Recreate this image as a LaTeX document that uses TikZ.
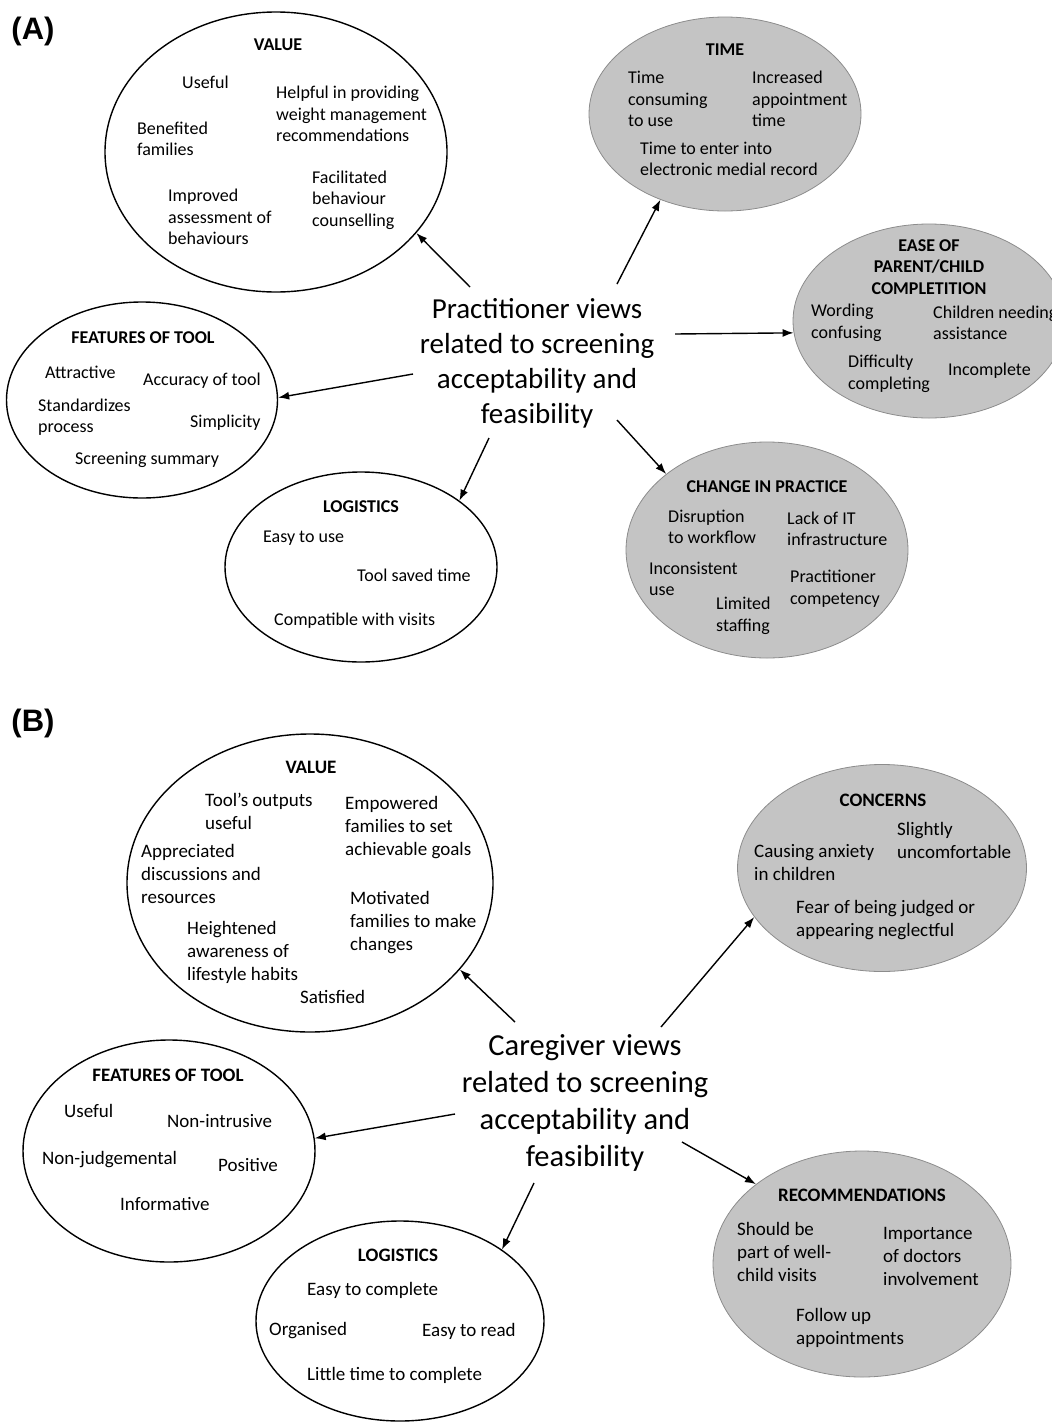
\documentclass[tikz,border=0pt]{standalone}
\usepackage{fontspec}
\setmainfont{Carlito}
\newfontfamily\panelfont{Liberation Sans}
\usepackage{tikz}
\usetikzlibrary{shapes.geometric,arrows.meta}
\definecolor{bubgrey}{gray}{0.77}
\definecolor{bubedge}{gray}{0.55}

\begin{document}
\begin{tikzpicture}[x=1pt, y=-1pt,
	bub/.style={ellipse, draw, line width=1.4pt, inner sep=0pt},
	gbub/.style={ellipse, draw=bubedge, fill=bubgrey, line width=0.8pt, inner sep=0pt},
	itm/.style={anchor=west, align=left, inner sep=0pt, font=\fontsize{18}{21.6}\selectfont},
	itmb/.style={itm, font=\fontsize{19}{23}\selectfont},
	ttl/.style={align=center, inner sep=0pt, font=\bfseries\fontsize{18}{21.6}\selectfont},
	ttlb/.style={ttl, font=\bfseries\fontsize{19}{23}\selectfont},
	hub/.style={align=center, inner sep=0pt, font=\fontsize{29}{35}\selectfont},
	hubb/.style={hub, font=\fontsize{30.5}{37}\selectfont},
	arr/.style={-{Latex[length=11pt,width=8pt]}, line width=1.4pt},
	panel/.style={inner sep=0pt, font=\panelfont\bfseries\fontsize{31}{34}\selectfont}]
	\useasboundingbox (0,0) rectangle (1052,1422);

	% (A) practitioners
	\node[panel] (labA) at (33,31) {(A)};
	\node[bub, minimum width=342pt, minimum height=280pt] (valA) at (276,152) {};
	\node[gbub, minimum width=272pt, minimum height=194pt] (timA) at (725,114) {};
	\node[gbub, minimum width=272pt, minimum height=194pt] (easA) at (929,321) {};
	\node[gbub, minimum width=282pt, minimum height=216pt] (chgA) at (767,550) {};
	\node[bub, minimum width=271pt, minimum height=196pt] (feaA) at (142,400) {};
	\node[bub, minimum width=272pt, minimum height=190pt] (logA) at (361,567) {};

	\node[ttl] (valAt) at (278,45) {VALUE};
	\node[itm] (valA1) at (182,82) {Useful};
	\node[itm] (valA2) at (276,114) {Helpful in providing\\weight management\\recommendations};
	\node[itm] (valA3) at (137,139) {Benefited\\families};
	\node[itm] (valA4) at (312,200) {Facilitated\\behaviour\\counselling};
	\node[itm] (valA5) at (168,217) {Improved\\assessment of\\behaviours};

	\node[ttl] (timAt) at (725,50) {TIME};
	\node[itm] (timA1) at (628,99) {Time\\consuming\\to use};
	\node[itm] (timA2) at (752,99) {Increased\\appointment\\time};
	\node[itm] (timA3) at (640,159) {Time to enter into\\electronic medial record};

	\node[ttl] (easAt) at (929,267) {EASE OF\\PARENT/CHILD\\COMPLETITION};
	\node[itm] (easA1) at (811,323) {Wording\\confusing};
	\node[itm] (easA2) at (933,323) {Children needing\\assistance};
	\node[itm] (easA3) at (848,374) {Difficulty\\completing};
	\node[itm] (easA4) at (948,371) {Incomplete};

	\node[ttl] (chgAt) at (767,487) {CHANGE IN PRACTICE};
	\node[itm] (chgA1) at (668,527) {Disruption\\to workflow};
	\node[itm] (chgA2) at (787,529) {Lack of IT\\infrastructure};
	\node[itm] (chgA3) at (649,579) {Inconsistent\\use};
	\node[itm] (chgA4) at (790,589) {Practitioner\\competency};
	\node[itm] (chgA5) at (716,616) {Limited\\staffing};

	\node[ttl] (feaAt) at (143,338) {FEATURES OF TOOL};
	\node[itm] (feaA1) at (45,372) {Attractive};
	\node[itm] (feaA2) at (143,381) {Accuracy of tool};
	\node[itm] (feaA3) at (38,417) {Standardizes\\process};
	\node[itm] (feaA4) at (190,423) {Simplicity};
	\node[itm] (feaA5) at (75,460) {Screening summary};

	\node[ttl] (logAt) at (361,507) {LOGISTICS};
	\node[itm] (logA1) at (263,538) {Easy to use};
	\node[itm] (logA2) at (357,575) {Tool saved time};
	\node[itm] (logA3) at (274,621) {Compatible with visits};

	\node[hub] (hubA) at (537,363) {Practitioner views\\related to screening\\acceptability and\\feasibility};
	\coordinate (sA1) at (470,287);
	\coordinate (sA2) at (617,284);
	\coordinate (sA3) at (675,334);
	\coordinate (sA4) at (413,374);
	\coordinate (sA5) at (489,438);
	\coordinate (sA6) at (617,420);
	\draw[arr] (sA1) -- (valA.-30);
	\draw[arr] (sA2) -- (timA.-127);
	\draw[arr] (sA3) -- (easA.185);
	\draw[arr] (sA4) -- (feaA.1);
	\draw[arr] (sA5) -- (logA.34);
	\draw[arr] (sA6) -- (chgA.143);

	% (B) caregivers
	\node[panel] (labB) at (33,723) {(B)};
	\node[bub, minimum width=366pt, minimum height=298pt] (valB) at (310,883) {};
	\node[gbub, minimum width=289pt, minimum height=207pt] (conB) at (882,868) {};
	\node[bub, minimum width=292pt, minimum height=222pt] (feaB) at (169,1151) {};
	\node[bub, minimum width=288pt, minimum height=200pt] (logB) at (400,1321) {};
	\node[gbub, minimum width=298pt, minimum height=226pt] (recB) at (862,1264) {};

	\node[ttlb] (valBt) at (311,767) {VALUE};
	\node[itmb] (valB1) at (205,811) {Tool’s outputs\\useful};
	\node[itmb] (valB2) at (345,828) {Empowered\\families to set\\achievable goals};
	\node[itmb] (valB3) at (141,874) {Appreciated\\discussions and\\resources};
	\node[itmb] (valB4) at (350,923) {Motivated\\families to make\\changes};
	\node[itmb] (valB5) at (187,952) {Heightened\\awareness of\\lifestyle habits};
	\node[itmb] (valB6) at (300,997) {Satisfied};

	\node[ttlb] (conBt) at (883,800) {CONCERNS};
	\node[itmb] (conB1) at (897,840) {Slightly\\uncomfortable};
	\node[itmb] (conB2) at (754,863) {Causing anxiety\\in children};
	\node[itmb] (conB3) at (796,920) {Fear of being judged or\\appearing neglectful};

	\node[ttlb] (feaBt) at (168,1075) {FEATURES OF TOOL};
	\node[itmb] (feaB1) at (64,1111) {Useful};
	\node[itmb] (feaB2) at (167,1121) {Non-intrusive};
	\node[itmb] (feaB3) at (42,1160) {Non-judgemental};
	\node[itmb] (feaB4) at (218,1165) {Positive};
	\node[itmb] (feaB5) at (120,1204) {Informative};

	\node[ttlb] (logBt) at (398,1255) {LOGISTICS};
	\node[itmb] (logB1) at (307,1290) {Easy to complete};
	\node[itmb] (logB2) at (269,1331) {Organised};
	\node[itmb] (logB3) at (422,1331) {Easy to read};
	\node[itmb] (logB4) at (307,1375) {Little time to complete};

	\node[ttlb] (recBt) at (862,1195) {RECOMMENDATIONS};
	\node[itmb] (recB1) at (737,1252) {Should be\\part of well-\\child visits};
	\node[itmb] (recB2) at (883,1256) {Importance\\of doctors\\involvement};
	\node[itmb] (recB3) at (796,1328) {Follow up\\appointments};

	\node[hubb] (hubB) at (585,1103) {Caregiver views\\related to screening\\acceptability and\\feasibility};
	\coordinate (sB1) at (515,1022);
	\coordinate (sB2) at (661,1027);
	\coordinate (sB3) at (455,1114);
	\coordinate (sB4) at (534,1183);
	\coordinate (sB5) at (682,1142);
	\draw[arr] (sB1) -- (valB.-30);
	\draw[arr] (sB2) -- (conB.201);
	\draw[arr] (sB3) -- (feaB.5);
	\draw[arr] (sB4) -- (logB.35);
	\draw[arr] (sB5) -- (recB.143);
\end{tikzpicture}
\end{document}
